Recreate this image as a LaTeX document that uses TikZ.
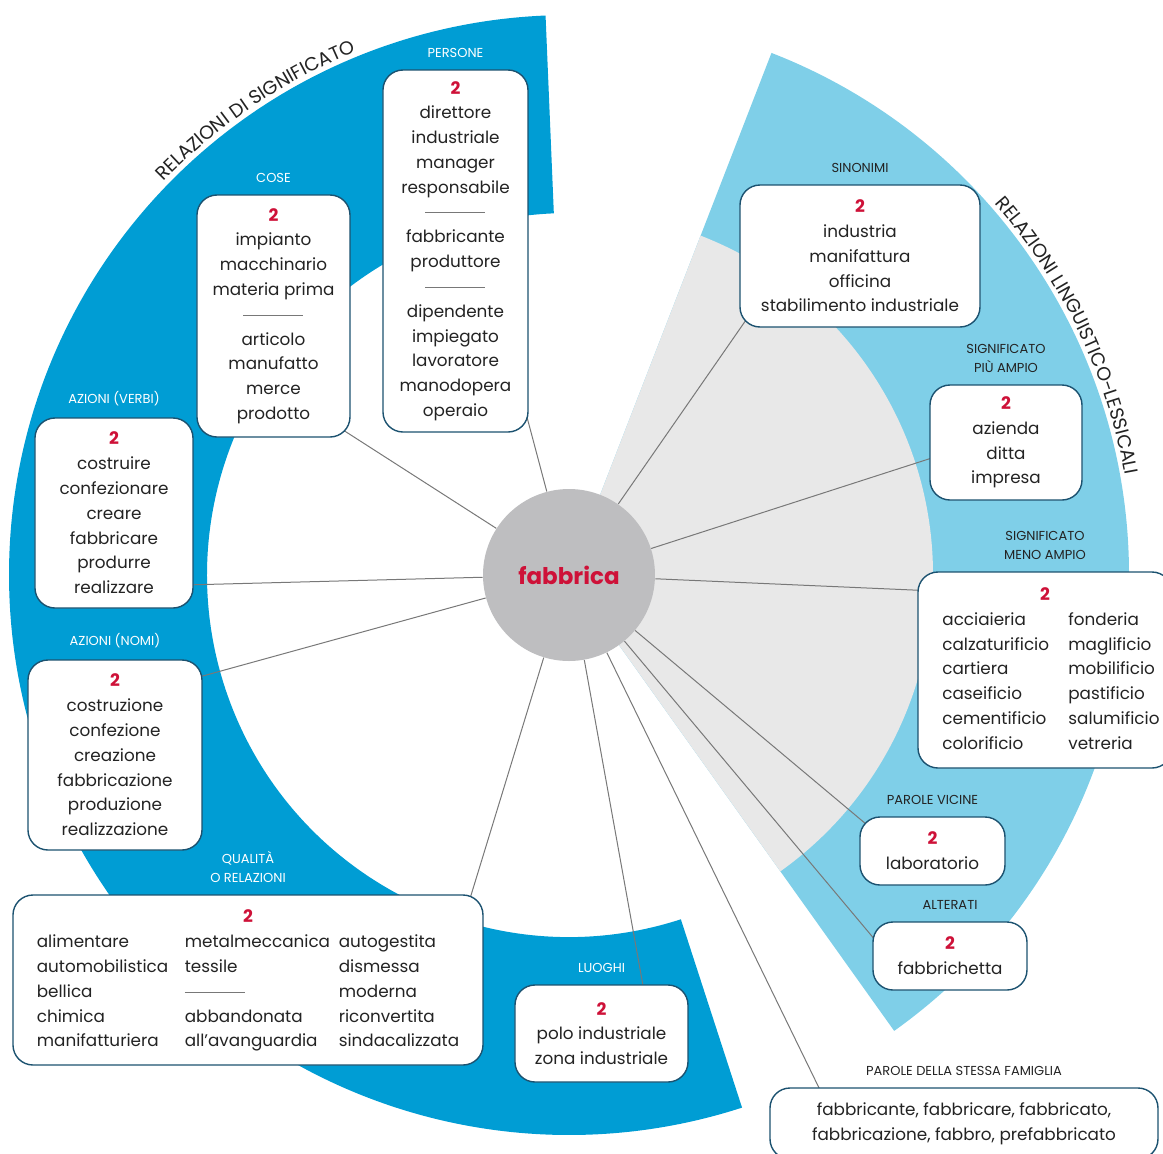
\documentclass[tikz,border=0pt]{standalone}
\usepackage{fontspec}
\setmainfont{Poppins}
\usetikzlibrary{positioning,decorations.text}

\definecolor{bandblue}{RGB}{0,157,212}
\definecolor{paleblue}{RGB}{127,207,232}
\definecolor{wedgegray}{RGB}{232,232,232}
\definecolor{hubgray}{RGB}{190,190,192}
\definecolor{numred}{RGB}{206,17,56}
\definecolor{boxline}{RGB}{28,82,112}
\definecolor{linkgray}{RGB}{120,120,120}
\definecolor{inkdark}{RGB}{35,35,35}

\newcommand{\redtwo}{\leavevmode{\fontsize{8.6}{10}\selectfont\bfseries\color{numred}2}}
\newcommand{\rulesep}{\leavevmode{\color{linkgray}\rule[0.28em]{30pt}{0.45pt}}}
\newcommand{\titlefont}{\fontsize{9.5}{11}\selectfont}

\pgfdeclarelayer{bands}
\pgfdeclarelayer{links}
\pgfsetlayers{bands,links,main}

\begin{document}
\begin{tikzpicture}[x=0.5pt,y=0.5pt,
    wordbox/.style={draw=boxline,line width=0.7pt,fill=white,rounded corners=10pt,
      align=center,text=inkdark,font=\fontsize{8.4}{12.4}\selectfont,inner sep=2pt},
    tag/.style={font=\fontsize{6.5}{9.5}\selectfont,align=center,inner sep=1pt},
    tagw/.style={tag,text=white},
    tagk/.style={tag,text=inkdark},
    link/.style={draw=linkgray,line width=0.5pt,shorten >=-5pt},
    titlearc/.style={decorate,decoration={text along path,text align=center,
      text color=inkdark}}
  ]
  \useasboundingbox (-569,-578) rectangle (594,575);
  % coloured sectors
  \begin{pgfonlayer}{bands}
    \fill[bandblue] (92.4:560) arc[start angle=92.4,end angle=288,radius=560]
      -- (288:362) arc[start angle=288,end angle=92.4,radius=362] -- cycle;
    \fill[paleblue] (0,0) -- (-54.5:560)
      arc[start angle=-54.5,end angle=68.8,radius=560] -- cycle;
    \fill[wedgegray] (0,0) -- (-54.5:364)
      arc[start angle=-54.5,end angle=68.8,radius=364] -- cycle;
  \end{pgfonlayer}
  \path[titlearc,decoration={text={|\titlefont|RELAZIONI DI SIGNIFICATO}}]
    (150:565) arc[start angle=150,end angle=98,radius=565];
  \path[titlearc,decoration={text={|\titlefont|RELAZIONI LINGUISTICO-LESSICALI}}]
    (51.3:565) arc[start angle=51.3,end angle=0,radius=565];

  \node[circle,fill=hubgray,minimum size=86pt,inner sep=0pt,text=numred,
    font=\fontsize{11.5}{13}\selectfont\bfseries] (fab) at (0,0) {fabbrica};

  % relazioni di significato
  \node[wordbox,minimum width=72.5pt,minimum height=181pt] (pers) at (-113.5,324)
    {\redtwo\\direttore\\industriale\\manager\\responsabile\\\rulesep\\fabbricante\\produttore\\\rulesep\\dipendente\\impiegato\\lavoratore\\manodopera\\operaio};
  \node[tagw,above=4.5pt of pers] (tpers) {PERSONE};
  \node[wordbox,minimum width=76.5pt,minimum height=121pt] (cose) at (-295.5,259)
    {\redtwo\\impianto\\macchinario\\materia prima\\\rulesep\\articolo\\manufatto\\merce\\prodotto};
  \node[tagw,above=4.5pt of cose] (tcose) {COSE};
  \node[wordbox,minimum width=79pt,minimum height=95pt] (verbi) at (-455,62)
    {\redtwo\\costruire\\confezionare\\creare\\fabbricare\\produrre\\realizzare};
  \node[tagw,above=4.5pt of verbi] (tverbi) {AZIONI (VERBI)};
  \node[wordbox,minimum width=87pt,minimum height=95pt] (nomi) at (-454,-180)
    {\redtwo\\costruzione\\confezione\\creazione\\fabbricazione\\produzione\\realizzazione};
  \node[tagw,above=4.5pt of nomi] (tnomi) {AZIONI (NOMI)};
  \node[wordbox,minimum width=235pt,minimum height=85pt] (qual) at (-321,-405)
    {\begin{tabular}{@{}p{74pt}@{}p{77pt}@{}l@{}}
      \multicolumn{3}{c}{\redtwo}\\
      alimentare & metalmeccanica & autogestita\\
      automobilistica & tessile & dismessa\\
      bellica & \rulesep & moderna\\
      chimica & abbandonata & riconvertita\\
      manifatturiera & all’avanguardia & sindacalizzata
    \end{tabular}};
  \node[tagw,above=4.5pt of qual] (tqual) {QUALITÀ\\O RELAZIONI};
  \node[wordbox,minimum width=86.5pt,minimum height=48.5pt] (luoghi) at (32.5,-458.5)
    {\redtwo\\polo industriale\\zona industriale};
  \node[tagw,above=4.5pt of luoghi] (tluoghi) {LUOGHI};

  % relazioni linguistico-lessicali
  \node[wordbox,minimum width=120pt,minimum height=71pt] (sin) at (291,319)
    {\redtwo\\industria\\manifattura\\officina\\stabilimento industriale};
  \node[tagk,above=4.5pt of sin] (tsin) {SINONIMI};
  \node[wordbox,minimum width=76pt,minimum height=57.5pt] (piu) at (437,132.5)
    {\redtwo\\azienda\\ditta\\impresa};
  \node[tagk,above=4.5pt of piu] (tpiu) {SIGNIFICATO\\PIÙ AMPIO};
  \node[wordbox,minimum width=127pt,minimum height=98pt] (meno) at (476,-95)
    {\begin{tabular}{@{\hspace{6pt}}p{63pt}@{}l@{}}
      \multicolumn{2}{c}{\redtwo}\\
      acciaieria & fonderia\\
      calzaturificio & maglificio\\
      cartiera & mobilificio\\
      caseificio & pastificio\\
      cementificio & salumificio\\
      colorificio & vetreria
    \end{tabular}};
  \node[tagk,above=4.5pt of meno] (tmeno) {SIGNIFICATO\\MENO AMPIO};
  \node[wordbox,minimum width=72.5pt,minimum height=34pt] (vic) at (363.5,-276)
    {\redtwo\\laboratorio};
  \node[tagk,above=4.5pt of vic] (tvic) {PAROLE VICINE};
  \node[wordbox,minimum width=77pt,minimum height=34pt] (alt) at (381,-381)
    {\redtwo\\fabbrichetta};
  \node[tagk,above=4.5pt of alt] (talt) {ALTERATI};
  \node[wordbox,minimum width=194pt,minimum height=35.5pt] (fam) at (395,-548.5)
    {fabbricante, fabbricare, fabbricato,\\fabbricazione, fabbro, prefabbricato};
  \node[tagk,above=4.5pt of fam] (tfam) {PAROLE DELLA STESSA FAMIGLIA};

  % raggi
  \begin{pgfonlayer}{links}
    \draw[link] (fab) -- (pers.-67.6);
    \draw[link] (fab) -- (cose.-57.2);
    \draw[link] (fab) -- (verbi.-42.3);
    \draw[link] (fab) -- (nomi.42.9);
    \draw[link] (fab) -- (qual.21.6);
    \draw[link] (fab) -- (luoghi.50.8);
    \draw[link] (fab) -- (fam.166.6);
    \draw[link] (fab) -- (alt.166.1);
    \draw[link] (fab) -- (vic.156.7);
    \draw[link] (fab) -- (meno.148.4);
    \draw[link] (fab) -- (piu.-168.5);
    \draw[link] (fab) -- (sin.-149);
  \end{pgfonlayer}
\end{tikzpicture}
\end{document}
